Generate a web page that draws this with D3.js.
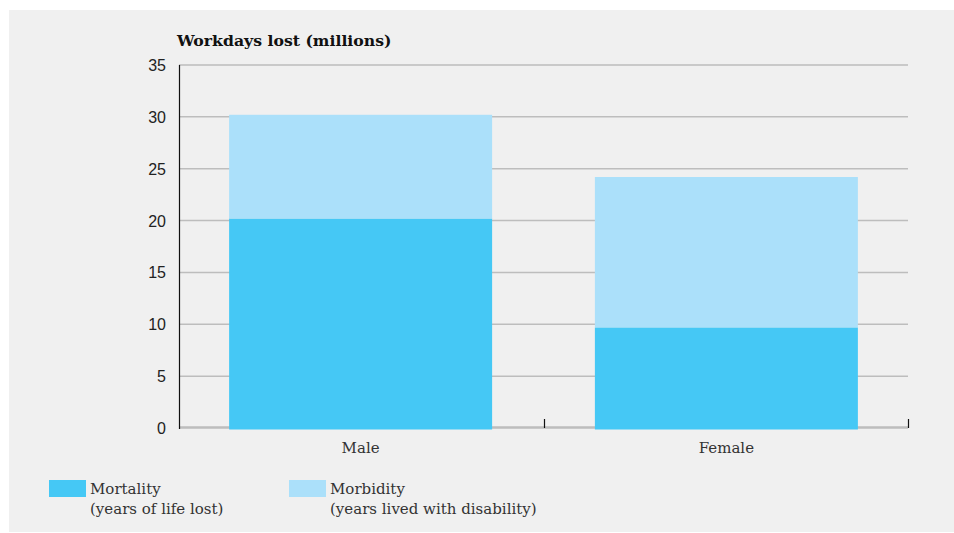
<!DOCTYPE html>
<html>
<head>
<meta charset="utf-8">
<script src="https://cdn.jsdelivr.net/npm/d3@7"></script>
<style>
  html, body { margin: 0; padding: 0; background: #ffffff; }
  svg { display: block; }
</style>
</head>
<body>
<svg id="chart" width="954" height="533"></svg>
<script>
// Workdays lost (millions), split into mortality and morbidity
const categories = ["Male", "Female"];
const mortality = [20.2, 9.7];   // years of life lost
const morbidity = [10.0, 14.5];  // years lived with disability
const yTicks = [0, 5, 10, 15, 20, 25, 30, 35];

const seriesKeys = ["mortality", "morbidity"];
const seriesColors = { mortality: "#45c8f5", morbidity: "#abe0fa" };
const legendLabels = [
  { key: "mortality", line1: "Mortality", line2: "(years of life lost)" },
  { key: "morbidity", line1: "Morbidity", line2: "(years lived with disability)" }
];

const rows = categories.map((c, i) => ({ category: c, mortality: mortality[i], morbidity: morbidity[i] }));

const svg = d3.select("#chart");
const serif = "'DejaVu Serif', serif";
const sans = "'Liberation Sans', Arial, sans-serif";

// grey panel
svg.append("rect")
  .attr("x", 9).attr("y", 10).attr("width", 945).attr("height", 522)
  .attr("fill", "#f0f0f0");

const left = 179, right = 908;
const x = d3.scaleBand().domain(categories).range([left, right])
  .paddingInner(0.281).paddingOuter(0.137);
const y = d3.scaleLinear().domain([0, 35]).range([428, 65]);

// horizontal gridlines
svg.append("g")
  .selectAll("line")
  .data(yTicks.filter(t => t > 0))
  .join("line")
  .attr("x1", left).attr("x2", right)
  .attr("y1", d => y(d)).attr("y2", d => y(d))
  .attr("stroke", "#bdbdbd").attr("stroke-width", 1.5);

// baseline
svg.append("line")
  .attr("x1", left).attr("x2", right)
  .attr("y1", y(0) - 0.5).attr("y2", y(0) - 0.5)
  .attr("stroke", "#bdbdbd").attr("stroke-width", 2.5);

// stacked bars
const stacked = d3.stack().keys(seriesKeys)(rows);
svg.append("g")
  .selectAll("g")
  .data(stacked)
  .join("g")
  .attr("fill", d => seriesColors[d.key])
  .selectAll("rect")
  .data(d => d)
  .join("rect")
  .attr("x", d => x(d.data.category))
  .attr("width", x.bandwidth())
  .attr("y", d => y(d[1]))
  .attr("height", d => (d[0] === 0 ? y(d[0]) + 1.5 : y(d[0])) - y(d[1]));

// y axis line
svg.append("line")
  .attr("x1", left + 0.5).attr("x2", left + 0.5)
  .attr("y1", y(35)).attr("y2", y(0) + 1)
  .attr("stroke", "#111").attr("stroke-width", 1.2);

// y tick labels
svg.append("g")
  .selectAll("text")
  .data(yTicks)
  .join("text")
  .attr("x", 166)
  .attr("y", d => y(d) + 6)
  .attr("text-anchor", "end")
  .attr("font-family", sans)
  .attr("font-size", 16)
  .attr("fill", "#222")
  .text(d => d);

// category separator ticks
const step = x.step();
const sepX = categories.slice(1).map(c => x(c) - x.paddingInner() * step / 2).concat([right]);
svg.append("g")
  .selectAll("line")
  .data(sepX)
  .join("line")
  .attr("x1", d => Math.round(d) + 0.5).attr("x2", d => Math.round(d) + 0.5)
  .attr("y1", y(0) - 9).attr("y2", y(0))
  .attr("stroke", "#111").attr("stroke-width", 1.2);

// category labels
svg.append("g")
  .selectAll("text")
  .data(categories)
  .join("text")
  .attr("x", d => x(d) + x.bandwidth() / 2)
  .attr("y", 453)
  .attr("text-anchor", "middle")
  .attr("font-family", serif)
  .attr("font-size", 15)
  .attr("fill", "#333")
  .text(d => d);

// axis title
svg.append("text")
  .attr("x", 177).attr("y", 46)
  .attr("font-family", serif)
  .attr("font-weight", "bold")
  .attr("font-size", 15.7)
  .attr("fill", "#111")
  .text("Workdays lost (millions)");

// legend
const legendX = [49, 289];
const lg = svg.append("g")
  .selectAll("g")
  .data(legendLabels)
  .join("g")
  .attr("transform", (d, i) => `translate(${legendX[i]},480)`);
lg.append("rect")
  .attr("width", 37).attr("height", 17)
  .attr("fill", d => seriesColors[d.key]);
lg.append("text")
  .attr("x", 41).attr("y", 14)
  .attr("font-family", serif).attr("font-size", 15).attr("fill", "#333")
  .text(d => d.line1);
lg.append("text")
  .attr("x", 41).attr("y", 34)
  .attr("font-family", serif).attr("font-size", 15).attr("fill", "#333")
  .text(d => d.line2);
</script>
</body>
</html>
